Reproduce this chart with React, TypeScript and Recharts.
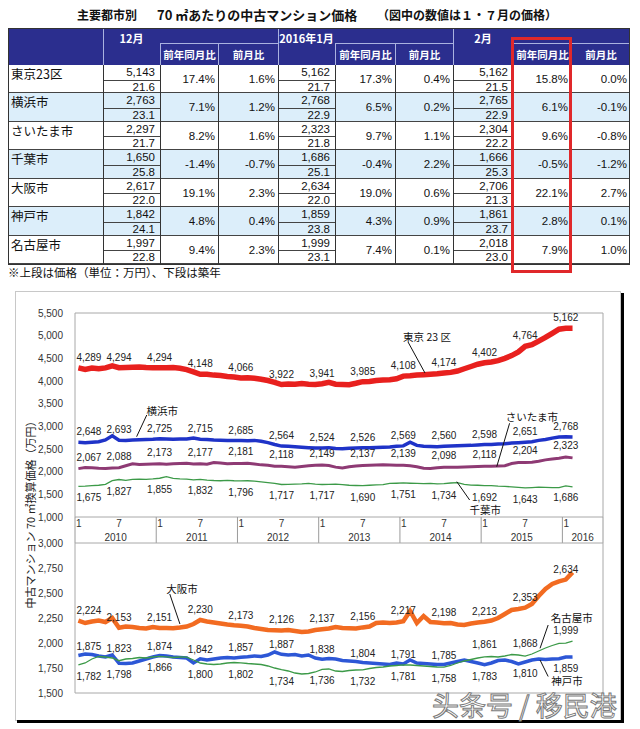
import React from 'react';
import { LineChart, Line, XAxis, YAxis, ReferenceArea, ReferenceLine, ReferenceDot } from 'recharts';

// ---------------- table data ----------------
const cities = ['東京23区', '横浜市', 'さいたま市', '千葉市', '大阪市', '神戸市', '名古屋市'];
const periodLabels = ['12月', '2016年1月', '2月'];
const subHeaders = ['前年同月比', '前月比'];

const decPrice = [5143, 2763, 2297, 1650, 2617, 1842, 1997];
const decAge = [21.6, 23.1, 21.7, 25.8, 22.0, 24.1, 22.8];
const decYoY = [17.4, 7.1, 8.2, -1.4, 19.1, 4.8, 9.4];
const decMoM = [1.6, 1.2, 1.6, -0.7, 2.3, 0.4, 2.3];

const janPrice = [5162, 2768, 2323, 1686, 2634, 1859, 1999];
const janAge = [21.7, 22.9, 21.8, 25.1, 22.0, 23.8, 23.1];
const janYoY = [17.3, 6.5, 9.7, -0.4, 19.0, 4.3, 7.4];
const janMoM = [0.4, 0.2, 1.1, 2.2, 0.6, 0.9, 0.1];

const febPrice = [5162, 2765, 2304, 1666, 2706, 1861, 2018];
const febAge = [21.5, 22.9, 22.2, 25.3, 21.3, 23.7, 23.0];
const febYoY = [15.8, 6.1, 9.6, -0.5, 22.1, 2.8, 7.9];
const febMoM = [0.0, -0.1, -0.8, -1.2, 2.7, 0.1, 1.0];

// ---------------- chart data (monthly, Jan 2010 – Feb 2016) ----------------
const yearLabels = ['2010', '2011', '2012', '2013', '2014', '2015', '2016'];
const monthTickLabels = ['1', '7'];

const tokyo = [
  4289, 4255, 4285, 4270, 4290, 4335, 4294, 4300, 4305, 4310, 4300, 4295,
  4294, 4290, 4295, 4280, 4250, 4200, 4148, 4150, 4130, 4120, 4100, 4090,
  4066, 4070, 4060, 4040, 4010, 3970, 3922, 3935, 3930, 3945, 3930, 3925,
  3941, 3970, 3930, 3925, 3920, 3950, 3985, 3990, 4010, 4020, 4030, 4050,
  4108, 4115, 4130, 4140, 4150, 4160, 4174, 4190, 4220, 4270, 4320, 4370,
  4402, 4420, 4450, 4500, 4560, 4640, 4764, 4800, 4880, 4960, 5050, 5143,
  5162, 5162,
];
const yokohama = [
  2648, 2640, 2650, 2660, 2700, 2790, 2693, 2690, 2700, 2705, 2710, 2715,
  2725, 2720, 2715, 2718, 2722, 2740, 2715, 2710, 2700, 2695, 2690, 2688,
  2685, 2680, 2690, 2670, 2640, 2600, 2564, 2560, 2550, 2540, 2530, 2520,
  2524, 2530, 2510, 2505, 2515, 2520, 2526, 2530, 2535, 2540, 2545, 2560,
  2569, 2650, 2580, 2560, 2555, 2550, 2560, 2565, 2570, 2575, 2580, 2590,
  2598, 2600, 2610, 2615, 2630, 2640, 2651, 2660, 2690, 2710, 2740, 2763,
  2768, 2765,
];
const saitama = [
  2067, 2090, 2085, 2075, 2070, 2080, 2088, 2130, 2175, 2160, 2165, 2170,
  2173, 2165, 2175, 2180, 2185, 2170, 2177, 2165, 2200, 2190, 2175, 2180,
  2181, 2185, 2170, 2150, 2140, 2120, 2118, 2110, 2100, 2115, 2130, 2140,
  2149, 2135, 2100, 2080, 2110, 2125, 2137, 2140, 2145, 2150, 2145, 2140,
  2139, 2130, 2110, 2075, 2070, 2085, 2098, 2100, 2095, 2105, 2110, 2115,
  2118, 2120, 2125, 2130, 2180, 2200, 2204, 2210, 2230, 2260, 2280, 2297,
  2323, 2304,
];
const chiba = [
  1675, 1680, 1690, 1700, 1720, 1800, 1827, 1810, 1830, 1835, 1830, 1840,
  1855, 1890, 1850, 1840, 1835, 1820, 1832, 1815, 1805, 1800, 1810, 1800,
  1796, 1800, 1790, 1775, 1760, 1740, 1717, 1720, 1725, 1730, 1740, 1725,
  1717, 1720, 1725, 1715, 1700, 1695, 1690, 1700, 1710, 1715, 1740, 1745,
  1751, 1745, 1740, 1735, 1740, 1730, 1734, 1750, 1760, 1720, 1705, 1700,
  1692, 1690, 1680, 1675, 1665, 1655, 1643, 1650, 1660, 1655, 1650, 1650,
  1686, 1666,
];
const osaka = [
  2224, 2200, 2215, 2225, 2210, 2250, 2153, 2165, 2160, 2150, 2145, 2160,
  2151, 2150, 2148, 2155, 2165, 2190, 2230, 2215, 2205, 2195, 2185, 2178,
  2173, 2165, 2150, 2140, 2130, 2128, 2126, 2130, 2120, 2110, 2115, 2130,
  2137, 2145, 2160, 2150, 2148, 2145, 2156, 2165, 2200, 2205, 2200, 2205,
  2217, 2320, 2200, 2270, 2210, 2205, 2198, 2200, 2185, 2180, 2195, 2205,
  2213, 2225, 2250, 2290, 2330, 2340, 2353, 2390, 2470, 2540, 2590, 2617,
  2634, 2706,
];
const kobe = [
  1875, 1890, 1885, 1870, 1860, 1880, 1798, 1795, 1800, 1820, 1840, 1860,
  1874, 1870, 1860, 1855, 1850, 1800, 1842, 1830, 1840, 1850, 1855, 1850,
  1857, 1862, 1870, 1865, 1880, 1910, 1887, 1880, 1885, 1870, 1880, 1850,
  1838, 1845, 1840, 1825, 1820, 1815, 1804, 1800, 1795, 1790, 1785, 1800,
  1791, 1830, 1800, 1795, 1790, 1785, 1785, 1800, 1815, 1830, 1815, 1800,
  1783, 1800, 1825, 1830, 1815, 1790, 1810, 1830, 1840, 1835, 1840, 1842,
  1859, 1861,
];
const nagoya = [
  1782, 1800, 1840, 1865, 1860, 1850, 1823, 1840, 1845, 1855, 1850, 1860,
  1866, 1862, 1855, 1860, 1858, 1830, 1800, 1790, 1785, 1790, 1800, 1805,
  1802, 1795, 1790, 1785, 1770, 1750, 1734, 1720, 1700, 1690, 1695, 1710,
  1736, 1740, 1720, 1715, 1725, 1730, 1732, 1745, 1755, 1760, 1770, 1775,
  1781, 1780, 1775, 1770, 1765, 1760, 1758, 1775, 1800, 1820, 1835, 1850,
  1861, 1865, 1860, 1870, 1885, 1880, 1868, 1890, 1920, 1950, 1975, 1997,
  1999, 2018,
];

const upperTicks = [1000, 1500, 2000, 2500, 3000, 3500, 4000, 4500, 5000, 5500];
const lowerTicks = [1500, 1750, 2000, 2250, 2500, 2750, 3000];

// ---------------- derived ----------------
const TOTAL_SLOTS = 78; // Jan 2010 .. Jun 2016 axis span (months)
const seriesMap: Record<string, number[]> = { tokyo, yokohama, saitama, chiba, osaka, kobe, nagoya };
const chartData = tokyo.map((_, i) => ({
  x: i + 0.5,
  tokyo: tokyo[i],
  yokohama: yokohama[i],
  saitama: saitama[i],
  chiba: chiba[i],
  osaka: osaka[i],
  kobe: kobe[i],
  nagoya: nagoya[i],
}));
const xTicks = chartData.filter((_, i) => i % 6 === 0).map((d) => d.x);

// ---------------- layout / style ----------------
const PLOT_LEFT = 75;
const PLOT_W = 528;
const SLOT = PLOT_W / TOTAL_SLOTS;
const NUM_FONT = '"Liberation Sans", Arial, "Noto Sans CJK JP", sans-serif';
const JP_FONT = '"Noto Sans CJK JP", "Noto Sans", sans-serif';

const labelPlacement: Record<string, { dy: number; flip?: number[]; flipDy?: number }> = {
  tokyo: { dy: -7 },
  yokohama: { dy: -7 },
  saitama: { dy: -8 },
  chiba: { dy: 15 },
  osaka: { dy: -7 },
  kobe: { dy: -6, flip: [6, 60, 66, 72], flipDy: 15 },
  nagoya: { dy: 15, flip: [6, 60, 66, 72], flipDy: -9 },
};

const fmt = (v: number) => v.toLocaleString('en-US');

function makeLabel(key: string) {
  return (p: any) => {
    const px = p.x ?? p.viewBox?.x;
    const py = p.y ?? p.viewBox?.y;
    if (px == null || py == null) return <g />;
    const idx = typeof p.index === 'number' ? p.index : Math.round((px - PLOT_LEFT) / SLOT - 0.5);
    if (idx % 6 !== 0 || idx > 72) return <g />;
    const pl = labelPlacement[key];
    const dy = pl.flip && pl.flip.includes(idx) ? (pl.flipDy as number) : pl.dy;
    const val = seriesMap[key][idx];
    const first = idx === 0;
    return (
      <text
        x={first ? px - 2 : px}
        y={py + dy}
        textAnchor={first ? 'start' : 'middle'}
        fontSize={10}
        fill="#222"
        fontFamily={NUM_FONT}
      >
        {fmt(val)}
      </text>
    );
  };
}

function MonthTick(props: any) {
  const { x, y, payload } = props;
  const m = Math.round(payload.value - 0.5);
  const isJan = m % 12 === 0;
  const bx = x - SLOT / 2;
  const span = Math.min(12, TOTAL_SLOTS - m);
  const yr = yearLabels[Math.floor(m / 12)];
  return (
    <g fontFamily={NUM_FONT}>
      {isJan && <line x1={bx} x2={bx} y1={y} y2={y + 26} stroke="#9a9a9a" />}
      {m === 72 && <line x1={bx + span * SLOT} x2={bx + span * SLOT} y1={y} y2={y + 26} stroke="#9a9a9a" />}
      <text x={isJan ? bx + 1 : x} y={y + 10} textAnchor={isJan ? 'start' : 'middle'} fontSize={10} fill="#333">
        {isJan ? monthTickLabels[0] : monthTickLabels[1]}
      </text>
      {isJan && (
        <text x={bx + (span * SLOT) / 2} y={y + 24} textAnchor="middle" fontSize={10} fill="#333">
          {yr}
        </text>
      )}
    </g>
  );
}

type Note = { text: string; at: [number, number]; line: [[number, number], [number, number]] };
const upperNotes: Note[] = [
  { text: '東京 23 区', at: [52.0, 4971], line: [[49.2, 4860], [51.7, 4177]] },
  { text: '横浜市', at: [12.9, 3360], line: [[10.6, 3250], [9.1, 2771]] },
  { text: 'さいたま市', at: [67.5, 3213], line: [[64.2, 3067], [62.3, 2110]] },
  { text: '千葉市', at: [60.6, 1170], line: [[56.4, 1779], [58.3, 1375]] },
];
const lowerNotes: Note[] = [
  { text: '大阪市', at: [15.8, 2550], line: [[14.0, 2490], [15.5, 2190]] },
  { text: '名古屋市', at: [73.4, 2253], line: [[69.9, 2180], [68.7, 1947]] },
  { text: '神戸市', at: [72.7, 1625], line: [[68.7, 1830], [69.9, 1665]] },
];

function renderNotes(notes: Note[]) {
  return notes.flatMap((n, i) => [
    <ReferenceLine
      key={`nl${i}`}
      segment={[{ x: n.line[0][0], y: n.line[0][1] }, { x: n.line[1][0], y: n.line[1][1] }]}
      stroke="#111"
      strokeWidth={1}
    />,
    <ReferenceDot
      key={`nt${i}`}
      x={n.at[0]}
      y={n.at[1]}
      r={0}
      shape={(p: any) => (
        <text x={p.cx} y={p.cy} textAnchor="middle" dominantBaseline="central" fontSize={10.5} fill="#111" fontFamily={JP_FONT}>
          {n.text}
        </text>
      )}
    />,
  ]);
}

// ---------------- table ----------------
const NAVY = '#2B2E8E';
const LIGHT_LINE = '#aab2e0';
const COLS = [8, 103, 160, 218, 278, 335, 395, 453, 513, 571, 630];
const HEAD_TOP = 28;
const SUB_TOP = 43;
const BODY_TOP = 65;
const ROW_H = 28.43;

const groups = [
  { price: decPrice, age: decAge, yoy: decYoY, mom: decMoM },
  { price: janPrice, age: janAge, yoy: janYoY, mom: janMoM },
  { price: febPrice, age: febAge, yoy: febYoY, mom: febMoM },
];

const abs = (s: React.CSSProperties): React.CSSProperties => ({ position: 'absolute', boxSizing: 'border-box', ...s });

function DataTable() {
  const els: React.ReactNode[] = [];
  const tableBottom = BODY_TOP + cities.length * ROW_H;
  els.push(<div key="hbg" style={abs({ left: 8, top: HEAD_TOP, width: 622, height: BODY_TOP - HEAD_TOP, background: NAVY })} />);
  periodLabels.forEach((lab, g) => {
    const x0 = COLS[1 + 3 * g];
    const x1 = COLS[2 + 3 * g];
    els.push(
      <div key={`pl${g}`} style={abs({ left: x0, top: 31, width: x1 - x0, textAlign: 'center', color: '#fff', fontWeight: 700, fontSize: 11, lineHeight: '14px', whiteSpace: 'nowrap' })}>
        {lab}
      </div>
    );
    [0, 1].forEach((k) => {
      const a = COLS[2 + 3 * g + k];
      const b = COLS[3 + 3 * g + k];
      els.push(
        <div key={`sh${g}${k}`} style={abs({ left: a, top: SUB_TOP, width: b - a, height: BODY_TOP - SUB_TOP, borderTop: `1px solid ${LIGHT_LINE}`, borderLeft: `1px solid ${LIGHT_LINE}`, color: '#fff', fontWeight: 700, fontSize: 10.5, textAlign: 'center', lineHeight: '21px', whiteSpace: 'nowrap' })}>
          {subHeaders[k]}
        </div>
      );
    });
  });
  [COLS[1], COLS[4], COLS[7]].forEach((x, i) =>
    els.push(<div key={`hv${i}`} style={abs({ left: x, top: HEAD_TOP, width: 1, height: BODY_TOP - HEAD_TOP, background: LIGHT_LINE })} />)
  );

  cities.forEach((c, r) => {
    const top = BODY_TOP + r * ROW_H;
    els.push(
      <div key={`rb${r}`} style={abs({ left: 8, top, width: 622, height: ROW_H, background: r % 2 === 1 ? '#DCEEFA' : '#fff', borderBottom: '1px solid #444' })} />
    );
    els.push(
      <div key={`cn${r}`} style={abs({ left: 11, top: top + 1, fontSize: 12.5, lineHeight: '15px', color: '#111', whiteSpace: 'nowrap' })}>
        {c}
      </div>
    );
    groups.forEach((gr, g) => {
      const x0 = COLS[1 + 3 * g];
      const x1 = COLS[2 + 3 * g];
      els.push(<div key={`pr${r}${g}`} style={abs({ left: x0, top: top + 1, width: x1 - x0, height: 13, textAlign: 'right', paddingRight: 5, fontSize: 11.5, lineHeight: '13px', color: '#111', fontFamily: NUM_FONT })}>{fmt(gr.price[r])}</div>);
      els.push(<div key={`ml${r}${g}`} style={abs({ left: x0, top: top + 14.5, width: x1 - x0, height: 1, background: '#444' })} />);
      els.push(<div key={`ag${r}${g}`} style={abs({ left: x0, top: top + 15.5, width: x1 - x0, height: 12.5, textAlign: 'right', paddingRight: 5, fontSize: 11.5, lineHeight: '12.5px', color: '#111', fontFamily: NUM_FONT })}>{gr.age[r].toFixed(1)}</div>);
      [gr.yoy[r], gr.mom[r]].forEach((v, k) => {
        const a = COLS[2 + 3 * g + k];
        const b = COLS[3 + 3 * g + k];
        els.push(
          <div key={`pc${r}${g}${k}`} style={abs({ left: a, top, width: b - a, height: ROW_H, textAlign: 'right', paddingRight: 3, fontSize: 11.5, lineHeight: `${ROW_H}px`, color: '#111', fontFamily: NUM_FONT })}>
            {v.toFixed(1)}%
          </div>
        );
      });
    });
  });
  COLS.slice(1, 10).forEach((x, i) =>
    els.push(<div key={`bv${i}`} style={abs({ left: x, top: BODY_TOP, width: 1, height: tableBottom - BODY_TOP, background: '#333' })} />)
  );
  els.push(<div key="ob" style={abs({ left: 8, top: HEAD_TOP, width: 622, height: tableBottom - HEAD_TOP + 1, border: '1px solid #333' })} />);
  // highlight box
  els.push(<div key="red" style={abs({ left: 511, top: 37, width: 61, height: 236, border: '3px solid #E0282A' })} />);
  return <>{els}</>;
}

export default function App() {
  return (
    <div style={{ position: 'absolute', left: 0, top: 0, width: 640, height: 729, background: '#fff', overflow: 'hidden', fontFamily: JP_FONT }}>
      {/* title */}
      <div style={abs({ left: 77, top: 6, fontSize: 12, fontWeight: 700, lineHeight: '17px', color: '#111', whiteSpace: 'nowrap' })}>主要都市別</div>
      <div style={abs({ left: 157, top: 6, fontSize: 13, fontWeight: 700, lineHeight: '17px', color: '#111', whiteSpace: 'nowrap' })}>70 ㎡あたりの中古マンション価格</div>
      <div style={abs({ left: 377, top: 6, fontSize: 12, fontWeight: 700, lineHeight: '17px', color: '#111', whiteSpace: 'nowrap' })}>（図中の数値は１・７月の価格）</div>

      <DataTable />

      <div style={abs({ left: 8, top: 264, fontSize: 11.5, lineHeight: '16px', color: '#111', whiteSpace: 'nowrap' })}>
        ※上段は価格（単位：万円）、下段は築年
      </div>

      {/* chart frame */}
      <div style={abs({ left: 15, top: 291, width: 606, height: 430, border: '1px solid #c8c8c8', background: '#fff' })} />
      <div style={abs({ left: 621, top: 293, width: 3, height: 430, background: '#000' })} />
      <div style={abs({ left: 17, top: 720, width: 607, height: 3, background: '#000' })} />

      {/* y-axis title */}
      <div style={abs({ left: 30 - 110, top: 512 - 8, width: 220, height: 16, textAlign: 'center', fontSize: 11, lineHeight: '16px', color: '#222', transform: 'rotate(-90deg)', whiteSpace: 'nowrap' })}>
        中古マンション 70 ㎡換算価格（万円）
      </div>

      {/* upper chart */}
      <div style={{ position: 'absolute', left: 0, top: 300, fontFamily: NUM_FONT }}>
        <LineChart width={640} height={243} data={chartData} margin={{ top: 13, right: 37, left: 15, bottom: 0 }}>
          <ReferenceArea x1={0} x2={TOTAL_SLOTS} y1={1000} y2={5500} fill="none" stroke="#a8a8a8" />
          <XAxis
            type="number"
            dataKey="x"
            domain={[0, TOTAL_SLOTS]}
            ticks={xTicks}
            interval={0}
            tick={<MonthTick />}
            axisLine={false}
            tickLine={false}
            tickSize={0}
            tickMargin={0}
            height={26}
          />
          <YAxis
            domain={[1000, 5500]}
            ticks={upperTicks}
            interval={0}
            tickFormatter={fmt}
            axisLine={false}
            tickLine={false}
            tickSize={0}
            tickMargin={12}
            width={60}
            tick={{ fontSize: 10, fill: '#333' }}
          />
          <Line dataKey="chiba" stroke="#3C9A48" strokeWidth={1.3} dot={false} isAnimationActive={false} label={makeLabel('chiba')} />
          <Line dataKey="saitama" stroke="#8E3A74" strokeWidth={3} dot={false} isAnimationActive={false} label={makeLabel('saitama')} />
          <Line dataKey="yokohama" stroke="#1F33C8" strokeWidth={3.5} dot={false} isAnimationActive={false} label={makeLabel('yokohama')} />
          <Line dataKey="tokyo" stroke="#E8201E" strokeWidth={5.5} dot={false} isAnimationActive={false} label={makeLabel('tokyo')} />
          {renderNotes(upperNotes)}
        </LineChart>
      </div>

      {/* lower chart */}
      <div style={{ position: 'absolute', left: 0, top: 530, fontFamily: NUM_FONT }}>
        <LineChart width={640} height={170} data={chartData} margin={{ top: 13, right: 37, left: 15, bottom: 7 }}>
          <ReferenceArea x1={0} x2={TOTAL_SLOTS} y1={1500} y2={3000} fill="none" stroke="#a8a8a8" />
          <XAxis type="number" dataKey="x" domain={[0, TOTAL_SLOTS]} hide />
          <YAxis
            domain={[1500, 3000]}
            ticks={lowerTicks}
            interval={0}
            tickFormatter={fmt}
            axisLine={false}
            tickLine={false}
            tickSize={0}
            tickMargin={12}
            width={60}
            tick={{ fontSize: 10, fill: '#333' }}
          />
          <Line dataKey="kobe" stroke="#2D57D6" strokeWidth={3.5} dot={false} isAnimationActive={false} label={makeLabel('kobe')} />
          <Line dataKey="nagoya" stroke="#3C9A48" strokeWidth={1.3} dot={false} isAnimationActive={false} label={makeLabel('nagoya')} />
          <Line dataKey="osaka" stroke="#F26B21" strokeWidth={4.5} dot={false} isAnimationActive={false} label={makeLabel('osaka')} />
          {renderNotes(lowerNotes)}
        </LineChart>
      </div>

      {/* watermark */}
      <svg style={{ position: 'absolute', left: 0, top: 0 }} width={640} height={729} pointerEvents="none">
        <text x={432} y={716} fontSize={27} fill="#fff" stroke="#7a7a7a" strokeWidth={1} fontFamily='"Noto Sans CJK SC", sans-serif'>
          头条号 / 移民港
        </text>
      </svg>
    </div>
  );
}
